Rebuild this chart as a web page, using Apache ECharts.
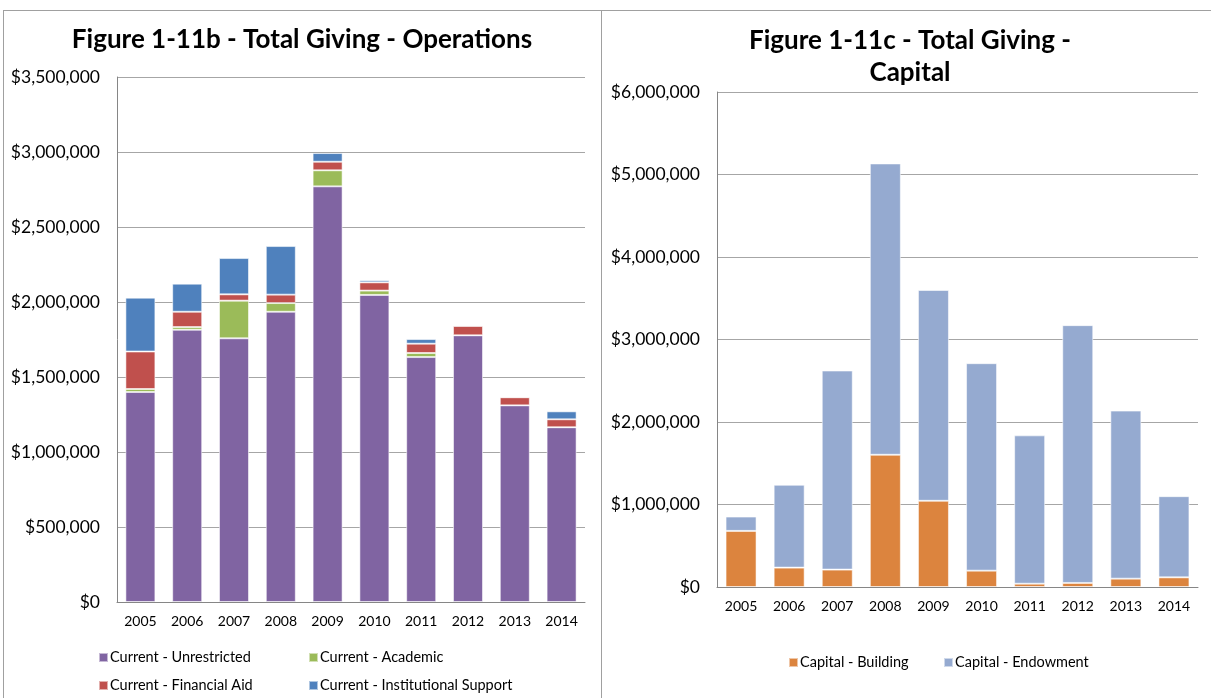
<!DOCTYPE html>
<html>
<head>
<meta charset="utf-8">
<script src="https://cdn.jsdelivr.net/npm/echarts@6/dist/echarts.min.js"></script>
<style>
  html, body { margin: 0; padding: 0; background: #fff; }
  #chart { width: 1211px; height: 698px; }
</style>
</head>
<body>
<div id="chart"></div>
<script>
// Fiscal years shown on both panels
const years = ['2005', '2006', '2007', '2008', '2009', '2010', '2011', '2012', '2013', '2014'];

// Operations giving (USD), stacked bottom to top
const unrestricted = [1400000, 1815000, 1758000, 1935000, 2771000, 2047000, 1633000, 1778000, 1311000, 1165000];
const academic = [20000, 18000, 251000, 58000, 107000, 29000, 27000, 0, 0, 0];
const financialAid = [250000, 102000, 42000, 56000, 57000, 55000, 62000, 62000, 54000, 53000];
const institutional = [359000, 187000, 242000, 324000, 58000, 14000, 31000, 7000, 3000, 53000];

// Capital giving (USD), stacked bottom to top
const building = [680000, 235000, 211000, 1603000, 1045000, 198000, 40000, 49000, 101000, 117000];
const endowment = [174000, 1004000, 2413000, 3531000, 2555000, 2515000, 1798000, 3125000, 2037000, 984000];

// Axis tick settings
const opsMax = 3500000, opsStep = 500000;
const capMax = 6000000, capStep = 1000000;

const FONT = 'Lato, "Open Sans", sans-serif';

function money(v) {
  const s = String(Math.round(v));
  return '$' + s.replace(/\B(?=(\d{3})+(?!\d))/g, ',');
}

const chart = echarts.init(document.getElementById('chart'), null, { renderer: 'canvas' });

const axisLineStyle = { color: '#868686', width: 1 };
const gridLineStyle = { color: '#a6a6a6', width: 1 };

function catAxis(gridIndex) {
  return {
    type: 'category',
    gridIndex: gridIndex,
    data: years,
    axisLine: { show: true, lineStyle: axisLineStyle },
    axisTick: { show: false },
    axisLabel: { color: '#000', fontFamily: FONT, fontSize: 14, margin: 12 }
  };
}

function valAxis(gridIndex, max, step) {
  return {
    type: 'value',
    gridIndex: gridIndex,
    min: 0,
    max: max,
    interval: step,
    axisLine: { show: true, lineStyle: axisLineStyle },
    axisTick: { show: false },
    splitLine: { show: true, lineStyle: gridLineStyle },
    axisLabel: { color: '#000', fontFamily: FONT, fontSize: 17.5, margin: 17, formatter: money }
  };
}

function barSeries(name, data, color, axisIndex, stack, width) {
  return {
    name: name,
    type: 'bar',
    stack: stack,
    xAxisIndex: axisIndex,
    yAxisIndex: axisIndex,
    data: data,
    barWidth: width,
    itemStyle: { color: color, borderColor: 'rgba(255,255,255,0.55)', borderWidth: 1 },
    emphasis: { disabled: true }
  };
}

function legendAt(name, left, top) {
  return {
    data: [name],
    left: left,
    top: top,
    icon: 'rect',
    itemWidth: 9,
    itemHeight: 9,
    itemGap: 0,
    selectedMode: false,
    textStyle: { color: '#000', fontFamily: FONT, fontSize: 14.5, padding: [0, 0, 0, -3] }
  };
}

const option = {
  backgroundColor: '#fff',
  animation: false,
  title: [
    {
      text: 'Figure 1-11b - Total Giving - Operations',
      left: 297,
      top: 22,
      textAlign: 'center',
      textStyle: { color: '#000', fontFamily: FONT, fontWeight: 'bold', fontSize: 26 }
    },
    {
      text: 'Figure 1-11c - Total Giving -\nCapital',
      left: 905,
      top: 20,
      textAlign: 'center',
      textStyle: { color: '#000', fontFamily: FONT, fontWeight: 'bold', fontSize: 26, lineHeight: 32 }
    }
  ],
  legend: [
    legendAt('Current - Unrestricted', 93, 645),
    legendAt('Current - Academic', 303, 645),
    legendAt('Current - Financial Aid', 93, 673),
    legendAt('Current - Institutional Support', 303, 673),
    legendAt('Capital - Building', 783, 650),
    legendAt('Capital - Endowment', 938, 650)
  ],
  grid: [
    { left: 117, top: 77, width: 468, height: 525 },
    { left: 717, top: 92, width: 481, height: 495 }
  ],
  xAxis: [catAxis(0), catAxis(1)],
  yAxis: [valAxis(0, opsMax, opsStep), valAxis(1, capMax, capStep)],
  series: [
    barSeries('Current - Unrestricted', unrestricted, '#8064a2', 0, 'ops', 30),
    barSeries('Current - Academic', academic, '#9bbb59', 0, 'ops', 30),
    barSeries('Current - Financial Aid', financialAid, '#c0504d', 0, 'ops', 30),
    barSeries('Current - Institutional Support', institutional, '#4f81bd', 0, 'ops', 30),
    barSeries('Capital - Building', building, '#dc843e', 1, 'cap', 31),
    barSeries('Capital - Endowment', endowment, '#95aad0', 1, 'cap', 31)
  ],
  graphic: [
    // panel frame: top edge, left edge and the divider between the two charts
    { type: 'line', shape: { x1: 3, y1: 10.5, x2: 1211, y2: 10.5 }, style: { stroke: '#a0a0a0', lineWidth: 1 }, silent: true },
    { type: 'line', shape: { x1: 3.5, y1: 10, x2: 3.5, y2: 698 }, style: { stroke: '#a0a0a0', lineWidth: 1 }, silent: true },
    { type: 'line', shape: { x1: 601.5, y1: 10, x2: 601.5, y2: 698 }, style: { stroke: '#a0a0a0', lineWidth: 1 }, silent: true }
  ]
};

chart.setOption(option);
</script>
</body>
</html>
